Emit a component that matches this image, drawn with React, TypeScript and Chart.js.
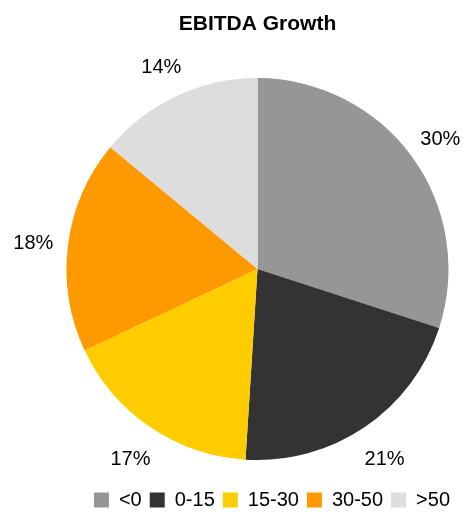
import React, { useEffect, useRef } from "react";
import { Chart, registerables } from "chart.js";

Chart.register(...registerables);

const categories = ["<0", "0-15", "15-30", "30-50", ">50"];
const shares = [30, 21, 17, 18, 14];
const colors = ["#969696", "#333333", "#FFCC00", "#FF9900", "#DDDDDD"];
const titleText = "EBITDA Growth";
const FONT = "'Liberation Sans', Arial, sans-serif";

const outsideLabels = {
  id: "outsideLabels",
  afterDatasetsDraw(chart: any) {
    const ctx = chart.ctx;
    const meta = chart.getDatasetMeta(0);
    const data = chart.data.datasets[0].data as number[];
    ctx.save();
    ctx.font = `20px ${FONT}`;
    ctx.fillStyle = "#000";
    ctx.textAlign = "center";
    ctx.textBaseline = "middle";
    meta.data.forEach((arc: any, i: number) => {
      const { x, y, startAngle, endAngle, outerRadius } = arc.getProps(
        ["x", "y", "startAngle", "endAngle", "outerRadius"],
        true
      );
      const mid = (startAngle + endAngle) / 2;
      const r = outerRadius + 35;
      ctx.fillText(`${data[i]}%`, x + r * Math.cos(mid), y + r * Math.sin(mid) + 3);
    });
    ctx.restore();
  },
};

export default function App() {
  const ref = useRef<HTMLCanvasElement>(null);
  useEffect(() => {
    if (!ref.current) return;
    const chart = new Chart(ref.current, {
      type: "pie",
      data: {
        labels: categories,
        datasets: [
          {
            data: shares,
            backgroundColor: colors,
            borderWidth: 0,
            radius: 191,
          } as any,
        ],
      },
      options: {
        animation: false,
        responsive: false,
        maintainAspectRatio: false,
        layout: { padding: { left: 57, right: 7, top: 0, bottom: 0 } },
        plugins: {
          title: {
            display: true,
            text: titleText,
            color: "#000",
            font: { family: FONT, size: 21, weight: "bold" },
            padding: { top: 12, bottom: 19 },
          },
          legend: {
            position: "bottom",
            align: "end",
            labels: {
              color: "#000",
              font: { family: FONT, size: 20 },
              boxWidth: 15,
              boxHeight: 15,
              padding: 8,
            },
          },
          tooltip: { enabled: false },
        },
      },
      plugins: [outsideLabels],
    });
    return () => chart.destroy();
  }, []);
  return (
    <div style={{ position: "absolute", left: 0, top: 0, width: 465, height: 516, overflow: "hidden", background: "#fff" }}>
      <canvas ref={ref} width={465} height={520} style={{ width: 465, height: 520, display: "block" }} />
    </div>
  );
}
